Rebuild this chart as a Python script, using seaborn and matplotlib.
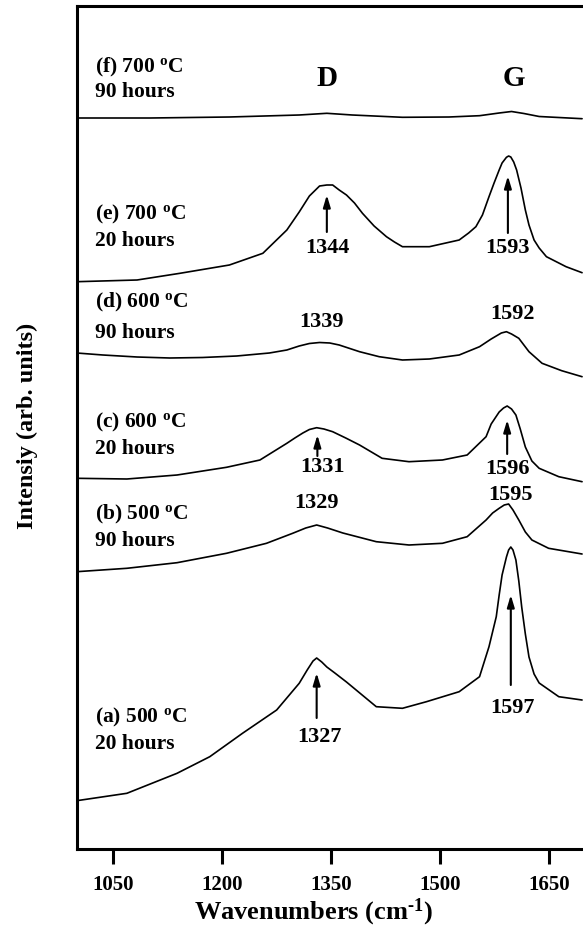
import numpy as np
import pandas as pd
import matplotlib
matplotlib.use("Agg")
import matplotlib.pyplot as plt
import seaborn as sns

# ---------------- data ----------------
wn_a = [1000, 1069, 1138, 1183, 1228, 1275, 1306, 1317, 1325, 1330, 1337, 1344, 1355, 1371, 1412, 1448,
        1481, 1526, 1554, 1567, 1577, 1581, 1585, 1591, 1594, 1597, 1600, 1604, 1608, 1612, 1617,
        1622, 1629, 1636, 1663, 1695]
int_a = [48.3, 55.7, 75.7, 92.3, 115.7, 139, 165.7, 179, 188, 191, 187, 182, 176, 167, 142.3, 140.7,
         147.3, 157.3, 172.3, 202.3, 232.3, 254, 274, 292, 299, 302, 299, 289, 268, 242, 215,
         192, 175, 166, 152.3, 149]

wn_b = [1000, 1069, 1138, 1206, 1261, 1297, 1315, 1330, 1345, 1366, 1412, 1457, 1503, 1537, 1563,
        1572, 1581, 1588, 1594, 1600, 1608, 1617, 1626, 1649, 1695]
int_b = [277.3, 280.7, 286.3, 295.7, 305.7, 315.7, 321, 324, 321, 316, 307.3, 304, 305.7, 312.3, 329,
         336, 340.7, 344, 345, 339, 329, 317, 309, 300.7, 295]

wn_c = [1000, 1069, 1138, 1206, 1252, 1289, 1300, 1311, 1320, 1330, 1340, 1352, 1370, 1389, 1420,
        1457, 1503, 1537, 1563, 1570, 1581, 1587, 1592, 1598, 1604, 1610, 1617, 1626, 1636, 1663, 1695]
int_c = [370.7, 370, 374, 381.7, 389, 405.7, 411, 416, 419.5, 421.3, 420, 417.3, 411, 404, 390.7,
         387.3, 389, 394, 412.3, 425, 437, 441, 443, 440, 434, 420, 402, 388, 380.7, 372.3, 367.3]

wn_d = [1000, 1036, 1083, 1128, 1173, 1220, 1265, 1289, 1306, 1320, 1334, 1348, 1361, 1389, 1416,
        1448, 1485, 1526, 1554, 1570, 1584, 1591, 1598, 1608, 1615, 1622, 1640, 1667, 1695]
int_d = [496, 494, 492, 491, 491.5, 493, 496, 499, 503, 505.5, 506.5, 506, 504, 497.3, 492.3,
         489, 490, 494, 502.3, 510, 516, 517.3, 515, 510.7, 504, 497.3, 485.7, 478.3, 472.3]

wn_e = [1000, 1083, 1142, 1210, 1256, 1289, 1306, 1320, 1334, 1344, 1352, 1361, 1371, 1382, 1393,
        1409, 1426, 1437, 1448, 1485, 1526, 1539, 1549, 1558, 1567, 1574, 1581, 1585, 1591, 1594,
        1597, 1601, 1605, 1611, 1617, 1622, 1629, 1636, 1646, 1673, 1695]
int_e = [567.3, 569, 575.7, 584, 595.7, 619, 637, 653, 663, 664, 664, 659, 654, 646, 635.7,
         623, 612.3, 607, 602.3, 602.3, 609, 616, 622.3, 634, 652.3, 666, 679, 686, 691.7, 693,
         692, 687, 679, 661, 639, 624, 609, 601, 592.3, 582.3, 576.3]

wn_f = [1000, 1101, 1210, 1306, 1344, 1379, 1448, 1512, 1554, 1581, 1598, 1615, 1636, 1695]
int_f = [731, 731, 732, 734, 735.7, 734, 731.7, 732, 733.3, 736, 737.5, 735.5, 732.5, 730.3]

sample_ids = ["a", "b", "c", "d", "e", "f"]
sample_temps = ["500", "500", "600", "600", "700", "700"]
sample_hours = ["20", "90", "20", "90", "20", "90"]
xticks = [1050, 1200, 1350, 1500, 1650]

# ---------------- build long table ----------------
frames = []
for sid, wn, it in zip(sample_ids,
                       [wn_a, wn_b, wn_c, wn_d, wn_e, wn_f],
                       [int_a, int_b, int_c, int_d, int_e, int_f]):
    frames.append(pd.DataFrame({"wn": wn, "I": it, "sample": sid}))
df = pd.concat(frames, ignore_index=True)

sns.set_theme(style="ticks")
plt.rcParams["font.family"] = ["Liberation Serif", "DejaVu Serif"]
plt.rcParams["font.weight"] = "bold"
plt.rcParams["text.color"] = "black"
plt.rcParams["axes.labelcolor"] = "black"
plt.rcParams["xtick.color"] = "black"
plt.rcParams["mathtext.fontset"] = "custom"
plt.rcParams["mathtext.rm"] = "Liberation Serif:bold"
plt.rcParams["mathtext.bf"] = "Liberation Serif:bold"
plt.rcParams["mathtext.it"] = "Liberation Serif:bold:italic"

W, H = 583, 943
fig = plt.figure(figsize=(W / 100, H / 100), dpi=100)
ax = fig.add_axes([76.7 / W, (H - 849) / H, (585.7 - 76.7) / W, (849 - 6) / H])

sns.lineplot(data=df, x="wn", y="I", units="sample", estimator=None, sort=False,
             color="black", linewidth=1.2, ax=ax)

ax.set_xlim(1000, 1700)
ax.set_ylim(0, 843)
ax.set_xticks(xticks)
ax.set_xticklabels([str(t) for t in xticks], fontsize=15, fontweight="bold", color="black")
ax.set_yticks([])
ax.tick_params(axis="x", direction="out", length=11, width=2.2, pad=8, colors="black")
for s in ax.spines.values():
    s.set_linewidth(2.2)
    s.set_color("black")

ax.set_xlabel("")
ax.set_ylabel("")
fig.text(313 / W, (H - 919) / H, "Wavenumbers (cm$^{\\mathrm{\u2010}1}$)", fontsize=19,
         fontweight="bold", ha="center", va="baseline", color="black")
fig.text(27 / W, (H - 426) / H, "Intensiy (arb. units)", fontsize=17.5, fontweight="bold",
         ha="center", va="center", rotation=90, color="black")

# sample labels
label_y = {"a": (132, 105), "b": (335, 308), "c": (427, 400),
           "d": (547, 516), "e": (635, 608), "f": (782, 757)}
for sid, t, h in zip(sample_ids, sample_temps, sample_hours):
    y1, y2 = label_y[sid]
    ax.text(1025, y1, rf"({sid}) {t} $^{{\mathrm{{o}}}}$C", fontsize=15.5, fontweight="bold",
            ha="left", va="center", color="black")
    ax.text(1025, y2, f"{h} hours", fontsize=15.5, fontweight="bold", ha="left", va="center",
            color="black")

ax.text(1344, 771, "D", fontsize=21, fontweight="bold", ha="center", va="center", color="black")
ax.text(1601, 771, "G", fontsize=21, fontweight="bold", ha="center", va="center", color="black")

# peak labels
peak_labels = [("1344", 1345, 601), ("1593", 1592, 601), ("1339", 1337, 527), ("1592", 1599, 535),
               ("1331", 1338, 382), ("1596", 1592, 380), ("1329", 1330, 346), ("1595", 1596, 354),
               ("1327", 1334, 112), ("1597", 1599, 141)]
for txt, x, y in peak_labels:
    ax.text(x, y, txt, fontsize=16, fontweight="bold", ha="center", va="center", color="black")

# arrows
arrows = [(1344, 617, 654), (1593, 616, 673), (1331, 393, 414),
          (1592, 395, 429), (1330, 131, 176), (1597, 164, 254)]
for x, y0, y1 in arrows:
    ax.annotate("", xy=(x, y1), xytext=(x, y0),
                arrowprops=dict(arrowstyle="-|>,head_length=0.6,head_width=0.18",
                                color="black", lw=1.5, shrinkA=0, shrinkB=0))

fig.savefig("out.png", dpi=100)
